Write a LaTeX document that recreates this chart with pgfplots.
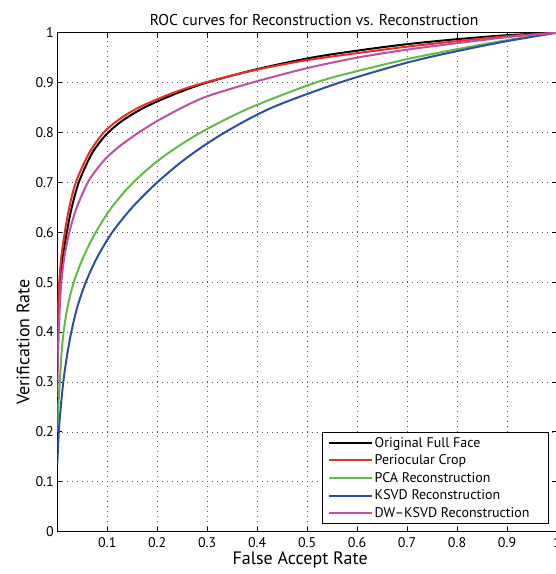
\documentclass[border=0pt]{standalone}
\usepackage{pgfplots}
\pgfplotsset{compat=1.18}
\usepackage{fontspec}
\setmainfont{PT Sans}
\definecolor{cRed}{HTML}{EE2A24}
\definecolor{cGreen}{HTML}{62BB46}
\definecolor{cBlue}{HTML}{2E4DA7}
\definecolor{cMag}{HTML}{BF4F9F}
\begin{document}
\begin{tikzpicture}
\begin{axis}[
  scale only axis,
  width=499.7pt, height=499pt,
  xmin=0, xmax=1, ymin=0, ymax=1,
  xtick={0.1,0.2,0.3,0.4,0.5,0.6,0.7,0.8,0.9,1},
  ytick={0,0.1,0.2,0.3,0.4,0.5,0.6,0.7,0.8,0.9,1},
  /pgf/number format/assume math mode=true,
  /pgf/number format/fixed,
  tick label style={font=\fontsize{14}{16}\selectfont},
  xticklabel style={yshift=-2pt},
  tick align=inside,
  major tick length=5pt,
  tick style={black, line width=0.8pt},
  axis line style={line width=1pt},
  grid=major,
  major grid style={black!65, line width=0.7pt, dash pattern=on 0.8pt off 4.2pt},
  title={ROC curves for Reconstruction vs. Reconstruction},
  title style={font=\fontsize{15.7}{18}\selectfont, at={(axis description cs:0.514,1)}, anchor=south, yshift=-3pt},
  xlabel={False Accept Rate},
  ylabel={Verification Rate},
  xlabel style={font=\fontsize{18}{20}\selectfont, at={(ticklabel cs:0.486)}, anchor=north, yshift=3pt},
  ylabel style={font=\fontsize{18}{20}\selectfont, at={(ticklabel cs:0.38)}, anchor=south, yshift=-1pt},
  legend style={at={(rel axis cs:0.984,0.015)}, anchor=south east,
    font=\fontsize{14}{16}\selectfont, draw=black, line width=0.8pt,
    row sep=2.1pt, inner xsep=5pt, inner ysep=3pt},
  legend cell align=left,
  legend image code/.code={\draw[#1, line width=2pt] (0pt,0pt) -- (43pt,0pt);},
  every axis plot/.append style={line width=2pt, smooth},
]
\addplot[black] coordinates {
(0,0.42) (0.0015,0.45) (0.005,0.5) (0.011,0.55) (0.019,0.6) (0.029,0.65) (0.043,0.7) (0.065,0.75) (0.08,0.774) (0.1,0.798) (0.13,0.8235) (0.174,0.85) (0.235,0.877) (0.299,0.9) (0.4,0.927) (0.509,0.95) (0.6,0.964) (0.7,0.977) (0.8,0.987) (0.9,0.995) (1,1)};
\addlegendentry{Original Full Face}
\addplot[cRed] coordinates {
(0,0.36) (0.0008,0.4) (0.002,0.45) (0.004,0.5) (0.008,0.55) (0.015,0.6) (0.024,0.65) (0.037,0.7) (0.059,0.75) (0.074,0.775) (0.093,0.8) (0.122,0.825) (0.163,0.85) (0.228,0.878) (0.295,0.9) (0.4,0.926) (0.5,0.945) (0.6,0.959) (0.7,0.972) (0.8,0.983) (0.9,0.993) (1,1)};
\addlegendentry{Periocular Crop}
\addplot[cGreen] coordinates {
(0,0.2) (0.002,0.25) (0.005,0.3) (0.008,0.35) (0.0125,0.4) (0.0205,0.45) (0.033,0.5) (0.052,0.55) (0.077,0.6) (0.109,0.65) (0.152,0.7) (0.21,0.75) (0.287,0.8) (0.387,0.85) (0.517,0.9) (0.6,0.923) (0.7,0.947) (0.8,0.967) (0.9,0.985) (1,1)};
\addlegendentry{PCA Reconstruction}
\addplot[cBlue] coordinates {
(0,0.135) (0.003,0.2) (0.007,0.25) (0.012,0.3) (0.019,0.35) (0.028,0.4) (0.04,0.45) (0.057,0.5) (0.08,0.55) (0.11,0.6) (0.15,0.65) (0.2,0.7) (0.26,0.75) (0.335,0.8) (0.43,0.85) (0.565,0.9) (0.7,0.94) (0.8,0.963) (0.9,0.983) (1,1)};
\addlegendentry{KSVD Reconstruction}
\addplot[cMag] coordinates {
(0,0.27) (0.0005,0.3) (0.0015,0.35) (0.003,0.4) (0.005,0.45) (0.008,0.5) (0.014,0.55) (0.024,0.6) (0.039,0.65) (0.061,0.7) (0.078,0.725) (0.099,0.75) (0.128,0.775) (0.163,0.8) (0.2,0.823) (0.25,0.85) (0.3,0.8725) (0.39,0.9) (0.5,0.929) (0.6,0.95) (0.7,0.966) (0.8,0.979) (0.9,0.991) (1,1)};
\addlegendentry{DW--KSVD Reconstruction\hspace*{12pt}}
\end{axis}
\pgfresetboundingbox
\path[use as bounding box] ([xshift=-57.3pt,yshift=-42.3pt]current axis.south west) rectangle ([xshift=-2pt,yshift=32.7pt]current axis.north east);
\end{tikzpicture}
\end{document}
